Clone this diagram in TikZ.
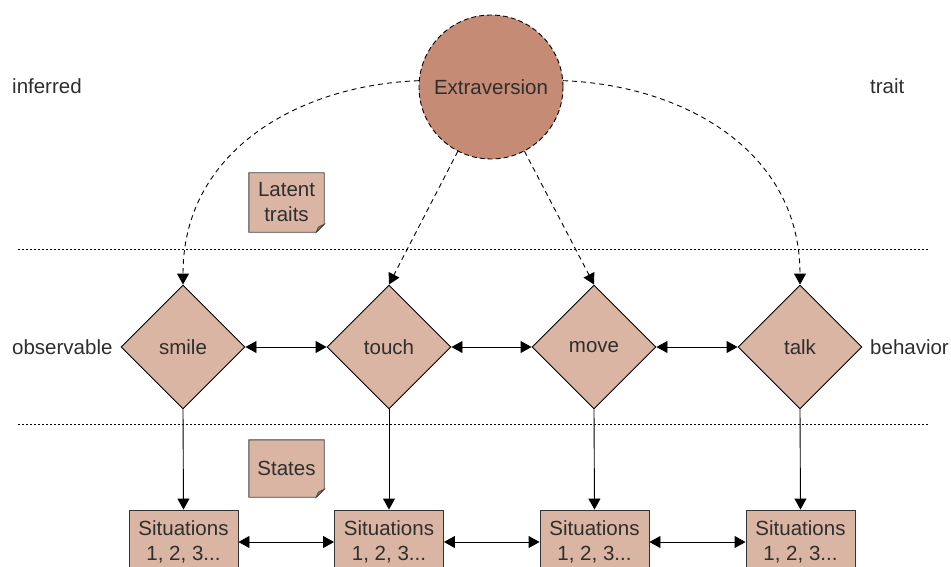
\documentclass[tikz,border=0pt]{standalone}
\usepackage{fontspec}
\setmainfont{Liberation Sans}
\usetikzlibrary{shapes.geometric,arrows.meta,backgrounds}
\definecolor{circfill}{HTML}{C68B75}
\definecolor{boxfill}{HTML}{DBB5A3}
\definecolor{txt}{HTML}{2E2E2E}
\begin{document}
\begin{tikzpicture}[x=1pt,y=-1pt,
  every node/.style={font=\fontsize{20.5}{25}\selectfont, text=txt},
  tip/.style={-{Triangle[length=11pt,width=12pt]}, line width=0.9pt},
  dtip/.style={{Triangle[length=11pt,width=12pt]}-{Triangle[length=11pt,width=12pt]}, line width=0.9pt},
  dasharr/.style={-{Triangle[length=11pt,width=12pt]}, line width=0.9pt, dash pattern=on 5pt off 4pt},
  dotline/.style={line width=0.9pt, dash pattern=on 2.2pt off 1.8pt},
  trait/.style={circle, draw=black, fill=circfill, minimum size=144pt, inner sep=0pt, line width=0.9pt, dash pattern=on 5pt off 3pt},
  behav/.style={diamond, draw=black, fill=boxfill, minimum width=124pt, minimum height=124pt, inner sep=0pt, line width=0.9pt},
  sitbox/.style={rectangle, draw=black!80, fill=boxfill, minimum width=109pt, minimum height=64pt, inner sep=0pt, align=center, line width=0.9pt},
  notebox/.style={rectangle, minimum width=75pt, align=center, inner sep=0pt},
  side/.style={anchor=west, inner sep=0pt}
]
\useasboundingbox (0,0) rectangle (951,567);

% dotted separators
\coordinate (d1a) at (18,249); \coordinate (d1b) at (928,249);
\coordinate (d2a) at (18,424); \coordinate (d2b) at (928,424);
\draw[dotline] (d1a) -- (d1b);
\draw[dotline] (d2a) -- (d2b);

% side labels
\node[side] (inf) at (12,86) {inferred};
\node[side] (trt) at (870,86) {trait};
\node[side] (obs) at (12,347) {observable};
\node[side] (beh) at (870,347) {behavior};

% trait circle
\node[trait] (ext) at (491,87) {Extraversion};

% behaviours
\node[behav] (smile) at (183,347) {smile};
\node[behav] (touch) at (389,347) {touch};
\node[behav] (move) at (594,347) {move};
\node[behav] (talk) at (800,347) {talk};

% situations
\node[sitbox] (s1) at (183.5,542) {Situations\\1, 2, 3...};
\node[sitbox] (s2) at (389,542) {Situations\\1, 2, 3...};
\node[sitbox] (s3) at (594.5,542) {Situations\\1, 2, 3...};
\node[sitbox] (s4) at (800.5,542) {Situations\\1, 2, 3...};

% notes
\node[notebox, minimum height=59pt] (lat) at (286.5,202.5) {Latent\\traits};
\node[notebox, minimum height=57pt] (sta) at (286.5,468.5) {States};
\begin{scope}[on background layer]
\foreach \n in {lat,sta}{
  \draw[fill=boxfill, draw=black!75, line width=0.9pt]
    (\n.north west) -- (\n.north east) -- ([yshift=8pt]\n.south east)
    -- ([xshift=-8pt]\n.south east) -- (\n.south west) -- cycle;
  \draw[fill=boxfill!70!black, draw=black!75, line width=0.6pt]
    ([yshift=8pt]\n.south east) -- ([xshift=-6pt,yshift=5pt]\n.south east)
    -- ([xshift=-8pt]\n.south east) -- cycle;
}
\end{scope}

% dashed arrows from trait
\draw[dasharr] (ext.175) .. controls (300,85) and (183,150) .. (smile.north);
\draw[dasharr] (ext) -- (touch.north);
\draw[dasharr] (ext) -- (move.north);
\draw[dasharr] (ext.5) .. controls (682,85) and (800,150) .. (talk.north);

% behaviour links
\draw[dtip] (smile.east) -- (touch.west);
\draw[dtip] (touch.east) -- (move.west);
\draw[dtip] (move.east) -- (talk.west);

% down arrows
\draw[tip] (smile.south) -- (s1.north);
\draw[tip] (touch.south) -- (s2.north);
\draw[tip] (move.south) -- (s3.north);
\draw[tip] (talk.south) -- (s4.north);

% situation links
\draw[dtip] (s1.east) -- (s2.west);
\draw[dtip] (s2.east) -- (s3.west);
\draw[dtip] (s3.east) -- (s4.west);
\end{tikzpicture}
\end{document}
